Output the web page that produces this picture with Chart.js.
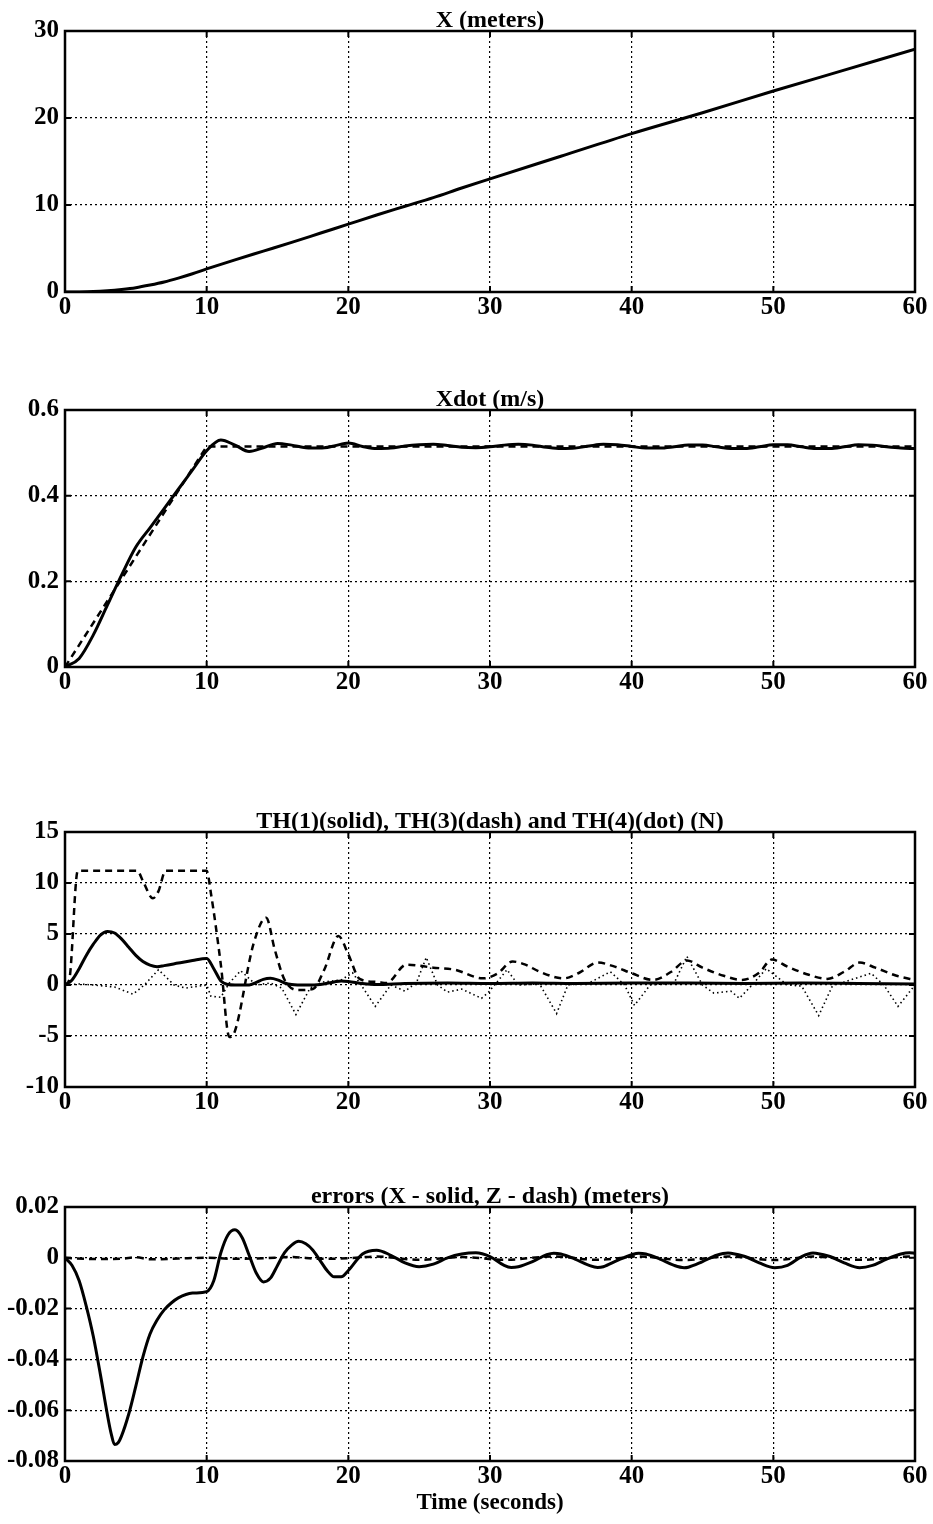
<!DOCTYPE html>
<html>
<head>
<meta charset="utf-8">
<script src="https://cdn.jsdelivr.net/npm/chart.js@4.4.0/dist/chart.umd.min.js"></script>
<style>
  body { margin: 0; background: #fff; }
  #page { position: relative; width: 933px; height: 1524px; }
  canvas { position: absolute; left: 0; }
</style>
</head>
<body>
<div id="page">
  <canvas id="chartX" width="933" height="315" style="top:7px"></canvas>
  <canvas id="chartXdot" width="933" height="311" style="top:386px"></canvas>
  <canvas id="chartTH" width="933" height="309" style="top:808px"></canvas>
  <canvas id="chartErr" width="933" height="336" style="top:1183px"></canvas>
</div>
<script>
const timeTicks = [0, 10, 20, 30, 40, 50, 60];

// X (meters)
const xTime = [0, 1, 2, 3, 4, 5, 6, 7, 8, 9, 10, 12, 14, 16, 18, 20, 22, 24, 26, 28, 30, 35, 40, 45, 50, 55, 60];
const xMeters = [0, 0.01, 0.05, 0.15, 0.3, 0.5, 0.8, 1.15, 1.6, 2.1, 2.65, 3.7, 4.7, 5.7, 6.75, 7.8, 8.85, 9.85, 10.85, 11.95, 13.0, 15.6, 18.2, 20.6, 23.1, 25.5, 27.9];
const xTicks = [0, 10, 20, 30];

// Xdot (m/s)
const xdotTime = [0, 1, 2, 3, 4, 5, 6, 7, 8, 9, 10, 11, 12, 13, 14, 15, 16, 17, 18, 19, 20,
  21, 22, 23, 24, 25, 26, 27, 28, 29, 30, 31, 32, 33, 34, 35, 36, 37, 38, 39, 40,
  41, 42, 43, 44, 45, 46, 47, 48, 49, 50, 51, 52, 53, 54, 55, 56, 57, 58, 59, 60];
const xdotActual = [0, 0.02, 0.075, 0.145, 0.215, 0.28, 0.325, 0.37, 0.415, 0.46, 0.505, 0.53, 0.518, 0.503, 0.512, 0.522, 0.518, 0.512, 0.511, 0.516, 0.523,
  0.515, 0.51, 0.511, 0.516, 0.519, 0.52, 0.517, 0.513, 0.512, 0.514, 0.518, 0.52, 0.518, 0.513, 0.51, 0.511, 0.516, 0.52, 0.519, 0.515,
  0.511, 0.511, 0.514, 0.518, 0.518, 0.514, 0.51, 0.51, 0.514, 0.519, 0.519, 0.514, 0.51, 0.51, 0.514, 0.519, 0.518, 0.514, 0.511, 0.51];
const xdotRefTime = [0, 10, 60];
const xdotRef = [0, 0.515, 0.515];
const xdotTicks = [0, 0.2, 0.4, 0.6];

// TH(1) solid
const th1Time = [0, 0.5, 1, 1.5, 2, 2.5, 3, 3.5, 4, 4.5, 5, 5.5, 6, 6.5, 7, 8, 9, 10, 10.5, 11, 11.5, 12, 13, 13.5, 14, 14.5, 15, 15.5, 16, 17, 18, 19, 19.5, 20, 21, 22, 24, 27, 30, 33, 36, 40, 44, 48, 52, 56, 60];
const th1 = [0, 0.5, 1.6, 2.9, 4.0, 4.9, 5.25, 5.1, 4.5, 3.7, 2.9, 2.3, 1.95, 1.8, 1.9, 2.15, 2.4, 2.6, 1.6, 0.4, 0.05, 0, 0, 0.25, 0.55, 0.65, 0.5, 0.2, 0.05, 0, 0.05, 0.3, 0.4, 0.35, 0.15, 0.05, 0.15, 0.2, 0.15, 0.2, 0.15, 0.2, 0.2, 0.15, 0.2, 0.15, 0.1];
// TH(3) dash
const th3Time = [0, 0.3, 0.9, 5.1, 5.5, 6.2, 6.6, 7.1, 10, 10.3, 11, 11.6, 12, 13.3, 14.2, 14.8, 15.5, 16.5, 17.5, 18.3, 19.3, 20, 20.8, 22, 22.7, 24.1, 26, 27.5,
  29.5, 30.5, 31.6, 32.5, 33.5, 35.2, 36.3, 37.6, 38.8, 40, 41.5, 42.8, 43.9, 45, 46.5, 47.8, 49, 49.9, 51, 52.5, 53.8, 55, 56.1, 57.2, 58.7, 60];
const th3 = [0, 0.5, 11.2, 11.2, 10.2, 8.5, 9.2, 11.2, 11.2, 9, 2, -5.1, -4.5, 4, 6.6, 3.5, 0.5, -0.5, -0.4, 1.5, 4.8, 3, 0.6, 0.3, 0.2, 2.0, 1.7, 1.5,
  0.65, 1.1, 2.3, 2.0, 1.3, 0.65, 1.2, 2.2, 1.8, 1.15, 0.5, 1.3, 2.4, 1.7, 0.9, 0.5, 1.2, 2.5, 1.8, 1.0, 0.6, 1.3, 2.2, 1.7, 0.9, 0.5];
// TH(4) dot
const th4Time = [0, 1, 2, 3.5, 4.8, 5.6, 6.6, 7.7, 8.5, 9.5, 10, 10.3, 11, 11.6, 12.4, 13.5, 14.5, 15.3, 16.3, 17.3, 18.2, 19.5, 20.3, 20.9, 21.9, 23, 24, 24.8, 25.5, 26.3, 27, 28, 29.4, 29.9,
  30.5, 31.2, 32, 33.5, 34.7, 35.5, 37, 38.5, 39.5, 40.2, 41.3, 43, 43.9, 45, 45.8, 47, 47.6, 48.5, 49.5, 51, 52, 53.2, 54.2, 55, 56.9, 57.8, 58.8, 60];
const th4 = [0, 0.1, 0, -0.2, -0.9, 0, 1.5, 0, -0.3, -0.1, 0, -1.1, -1.2, 0.2, 1.4, 0, 0.2, -0.3, -2.9, -0.3, 0.3, 0.5, 1.2, 0, -2.1, 0, -0.6, 0.2, 2.7, 0, -0.7, -0.4, -1.3, -0.7,
  0.3, 1.5, 0, 0.1, -2.8, 0, 0.2, 1.3, 0, -2.0, 0, 0.2, 2.8, 0, -0.8, -0.6, -1.3, 0, 1.6, 0, -0.1, -3.0, 0, 0.3, 1.15, 0, -2.1, 0];
const thTicks = [-10, -5, 0, 5, 10, 15];

// errors
const errXTime = [0, 0.5, 1, 1.5, 2, 2.5, 3, 3.25, 3.5, 3.75, 4, 4.5, 5, 5.5, 6, 6.5, 7, 7.5, 8, 9, 10, 10.5, 11, 11.5, 12, 12.5, 13, 13.5, 14, 14.5, 15, 15.5, 16, 16.5, 17, 17.5, 18, 18.5, 19, 19.5, 20,
  21, 22, 23, 24, 25, 26, 27, 28, 29, 30, 31, 31.5, 32, 33, 34, 34.5, 35, 36, 37, 37.6, 38, 39, 40, 40.5, 41, 42, 43, 43.7, 44, 45, 46, 46.8, 47, 48, 49, 50.1, 51, 52, 52.8, 53, 54, 55, 56.1, 57, 58, 59, 59.6, 60];
const errX = [0, -0.003, -0.009, -0.019, -0.031, -0.046, -0.062, -0.069, -0.0735, -0.0728, -0.07, -0.0615, -0.0505, -0.039, -0.03, -0.0245, -0.0205, -0.0178, -0.0158, -0.0139, -0.0133, -0.009, 0.002, 0.009, 0.011, 0.008, 0.001, -0.006, -0.0095, -0.008, -0.003, 0.002, 0.005, 0.0065, 0.0055, 0.003, -0.001, -0.005, -0.0075, -0.0075, -0.005,
  0.0015, 0.003, 0.001, -0.002, -0.0035, -0.0025, 0, 0.0015, 0.002, 0.0005, -0.003, -0.0038, -0.0035, -0.0015, 0.0012, 0.0018, 0.0015, -0.0005, -0.003, -0.0038, -0.0035, -0.001, 0.0012, 0.0018, 0.0015, -0.0005, -0.003, -0.0039, -0.0037, -0.0015, 0.001, 0.0019, 0.0018, 0.0005, -0.002, -0.0039, -0.003, 0.0005, 0.0019, 0.0018, 0.0005, -0.002, -0.0039, -0.003, -0.0005, 0.0015, 0.002, 0.0018];
const errZTime = [0, 2, 4, 5, 6, 8, 10, 12, 14, 16, 18, 20, 22, 25, 28, 31, 34.5, 37.6, 40.5, 43.7, 46.8, 50.1, 52.8, 56.1, 59.6, 60];
const errZ = [0, -0.0005, -0.0004, 0.0002, -0.0006, -0.0003, 0, -0.0004, -0.0002, 0.0003, -0.0004, -0.0002, 0.0005, -0.0008, 0.0003, -0.0008, 0.0005, -0.0008, 0.0005, -0.0009, 0.0005, -0.0009, 0.0005, -0.0008, 0.0005, 0.0004];
const errTicks = [-0.08, -0.06, -0.04, -0.02, 0, 0.02];

const serif = "'Liberation Serif', 'Times New Roman', serif";

function pts(ts, vs) {
    return ts.map((t, i) => ({ x: t, y: vs[i] }));
}

function solid(ts, vs) {
    return { data: pts(ts, vs), borderColor: "#000", borderWidth: 3, pointRadius: 0, cubicInterpolationMode: "monotone" };
}
function dashed(ts, vs, smooth) {
    return { data: pts(ts, vs), borderColor: "#000", borderWidth: 2.5, borderDash: [7, 5], pointRadius: 0,
        cubicInterpolationMode: smooth ? "monotone" : "default", tension: 0 };
}
function dotted(ts, vs) {
    return { data: pts(ts, vs), borderColor: "#000", borderWidth: 1.6, borderDash: [1.5, 3], pointRadius: 0, tension: 0 };
}

// box round the plot and small inward ticks, like the old matlab axes
const framePlugin = {
    id: "frame",
    afterDraw(chart) {
        const { ctx, chartArea: a, scales } = chart;
        ctx.save();
        ctx.strokeStyle = "#000";
        ctx.lineWidth = 2;
        ctx.beginPath();
        scales.x.ticks.forEach(t => {
            const px = scales.x.getPixelForValue(t.value);
            ctx.moveTo(px, a.bottom); ctx.lineTo(px, a.bottom - 6);
            ctx.moveTo(px, a.top); ctx.lineTo(px, a.top + 6);
        });
        scales.y.ticks.forEach(t => {
            const py = scales.y.getPixelForValue(t.value);
            ctx.moveTo(a.left, py); ctx.lineTo(a.left + 6, py);
            ctx.moveTo(a.right, py); ctx.lineTo(a.right - 6, py);
        });
        ctx.stroke();
        ctx.lineWidth = 2.5;
        ctx.strokeRect(a.left, a.top, a.right - a.left, a.bottom - a.top);
        ctx.restore();
    }
};

function makeChart(id, title, datasets, yMin, yMax, yTicks, xTitle) {
    const tickFont = { family: serif, size: 25, weight: "bold" };
    return new Chart(document.getElementById(id), {
        type: "line",
        data: { datasets },
        options: {
            responsive: false,
            animation: false,
            layout: { padding: { left: 0, right: 18, top: 0, bottom: 0 } },
            plugins: {
                legend: { display: false },
                tooltip: { enabled: false },
                title: {
                    display: true, text: title, color: "#000",
                    fullSize: false, // centre over the plot box, not the canvas
                    font: { family: serif, size: 24, weight: "bold", lineHeight: "20px" },
                    padding: { top: 4, bottom: 0 }
                }
            },
            scales: {
                x: {
                    type: "linear", min: 0, max: 60,
                    afterBuildTicks: s => { s.ticks = timeTicks.map(v => ({ value: v })); },
                    afterFit: s => { s.height = xTitle ? 58 : 30; },
                    grid: { color: "#000", lineWidth: 1.2, drawTicks: false },
                    border: { display: false, dash: [2, 3] },
                    ticks: { color: "#000", font: tickFont, padding: 1, maxRotation: 0, autoSkip: false, callback: v => String(v) },
                    title: {
                        display: !!xTitle, text: xTitle || "", color: "#000",
                        font: { family: serif, size: 23, weight: "bold", lineHeight: 1 },
                        padding: { top: 0, bottom: 4 }
                    }
                },
                y: {
                    min: yMin, max: yMax,
                    afterBuildTicks: s => { s.ticks = yTicks.map(v => ({ value: v })); },
                    afterFit: s => { s.width = 65; },
                    grid: { color: "#000", lineWidth: 1.2, drawTicks: false },
                    border: { display: false, dash: [2, 3] },
                    ticks: { color: "#000", font: tickFont, padding: 6, callback: v => String(v) }
                }
            }
        },
        plugins: [framePlugin]
    });
}

makeChart("chartX", "X (meters)", [solid(xTime, xMeters)], 0, 30, xTicks);
makeChart("chartXdot", "Xdot (m/s)", [dashed(xdotRefTime, xdotRef, false), solid(xdotTime, xdotActual)], 0, 0.6, xdotTicks);
makeChart("chartTH", "TH(1)(solid), TH(3)(dash) and TH(4)(dot) (N)",
    [dotted(th4Time, th4), dashed(th3Time, th3, true), solid(th1Time, th1)], -10, 15, thTicks);
makeChart("chartErr", "errors (X - solid, Z - dash) (meters)",
    [dashed(errZTime, errZ, true), solid(errXTime, errX)], -0.08, 0.02, errTicks, "Time (seconds)");
</script>
</body>
</html>
